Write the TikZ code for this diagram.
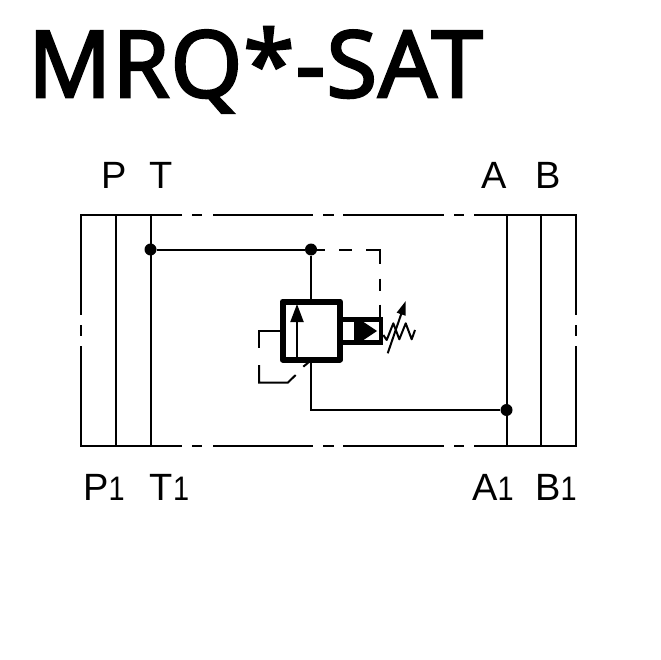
\documentclass[tikz,border=0pt]{standalone}
\usepackage{fontspec}
\setmainfont{Liberation Sans}
\newfontfamily\titlefont[FakeBold=3,LetterSpace=1.4]{Open Sans}
\usetikzlibrary{arrows.meta,positioning}
\tikzset{
    port/.style={inner sep=0pt, font=\fontsize{38}{38}\selectfont},
    thin line/.style={line width=2pt},
    thick line/.style={line width=6pt},
    junction/.style={circle, fill=black, inner sep=0pt, minimum size=12pt}
}
\newcommand{\sub}[1]{\scalebox{.85}[1]{\fontsize{34}{34}\selectfont #1}}
\begin{document}
\begin{tikzpicture}[x=1pt,y=-1pt]
    \useasboundingbox (0,0) rectangle (660,660);
    \node [inner sep=0pt, anchor=base west, font=\titlefont\fontsize{92}{92}\selectfont] (title) at (28,97) {MRQ*-SAT};

    % ports
    \node [port, anchor=base] (P) at (114.5,189) {P};
    \node [port, anchor=base] (T) at (161,189) {T};
    \node [port, anchor=base] (A) at (494,189) {A};
    \node [port, anchor=base] (B) at (548,189) {B};
    \node [port, anchor=base] (P1) at (104,500) {P\sub{1}};
    \node [port, anchor=base] (T1) at (169.5,500) {T\sub{1}};
    \node [port, anchor=base] (A1) at (493,500) {A\sub{1}};
    \node [port, anchor=base] (B1) at (556,500) {B\sub{1}};

    % body
    \coordinate (tl) at (81,215);
    \coordinate (tr) at (576,215);
    \coordinate (bl) at (81,446);
    \coordinate (br) at (576,446);
    \draw [thin line] (182,215) -- (tl) -- (81,315);
    \draw [thin line] (81,346) -- (bl) -- (182,446);
    \draw [thin line] (474,215) -- (tr) -- (576,315);
    \draw [thin line] (576,346) -- (br) -- (474,446);
    \foreach \xa/\xb in {192/202, 213/313, 323/334, 343/444, 454/464} {
        \draw [thin line] (\xa,215) -- (\xb,215);
        \draw [thin line] (\xa,446) -- (\xb,446);
    }
    \draw [thin line] (81,325) -- (81,336);
    \draw [thin line] (576,325) -- (576,336);
    \foreach \x in {115.5,150.5,506.5,541} {
        \draw [thin line] (\x,215) -- (\x,446);
    }

    % lines
    \node [junction] (j1) at (150.5,249.5) {};
    \node [junction] (j2) at (311,249.5) {};
    \node [junction] (j3) at (506.5,410) {};
    \coordinate (vtop) at (311,301.5);
    \coordinate (vbot) at (311,359.5);
    \draw [thin line] (j1) -- (j2) -- (vtop);
    \draw [thin line] (vbot) -- (311,410) -- (j3);
    \draw [thin line, dash pattern=on 14pt off 14pt on 13pt off 14pt on 28pt off 15pt on 12pt off 14pt on 13pt off 9pt] (j2.center) -- (380,249.5) -- (380,318);

    % valve
    \draw [thick line, line join=round] (282.5,301.5) rectangle (340,359.5);
    \draw [thin line, -{Triangle[length=18pt,width=13pt]}] (297,357) -- (297,304);
    \draw [line width=4.6pt] (340,319.5) rectangle (381,342.5);
    \fill (354,320) rectangle (362,342);
    \fill (362,321) -- (377,331) -- (362,341) -- cycle;

    % pilot
    \draw [thin line] (282,330.7) -- (259,330.7) -- (259,348);
    \draw [thin line] (259,365) -- (259,382.7) -- (287.7,382.7) -- (295.7,375);
    \draw [thin line] (303.3,366.7) -- (309.3,361.7);

    % spring
    \draw [thin line, line join=round] (383.3,335) -- (386.7,340) -- (393.3,323.3) -- (399.3,339.3) -- (405.7,323.3) -- (411.7,339.3) -- (415,330);
    \draw [thin line, -{Triangle[length=14pt,width=9pt]}] (387.7,353.3) -- (405.7,301);
\end{tikzpicture}
\end{document}
